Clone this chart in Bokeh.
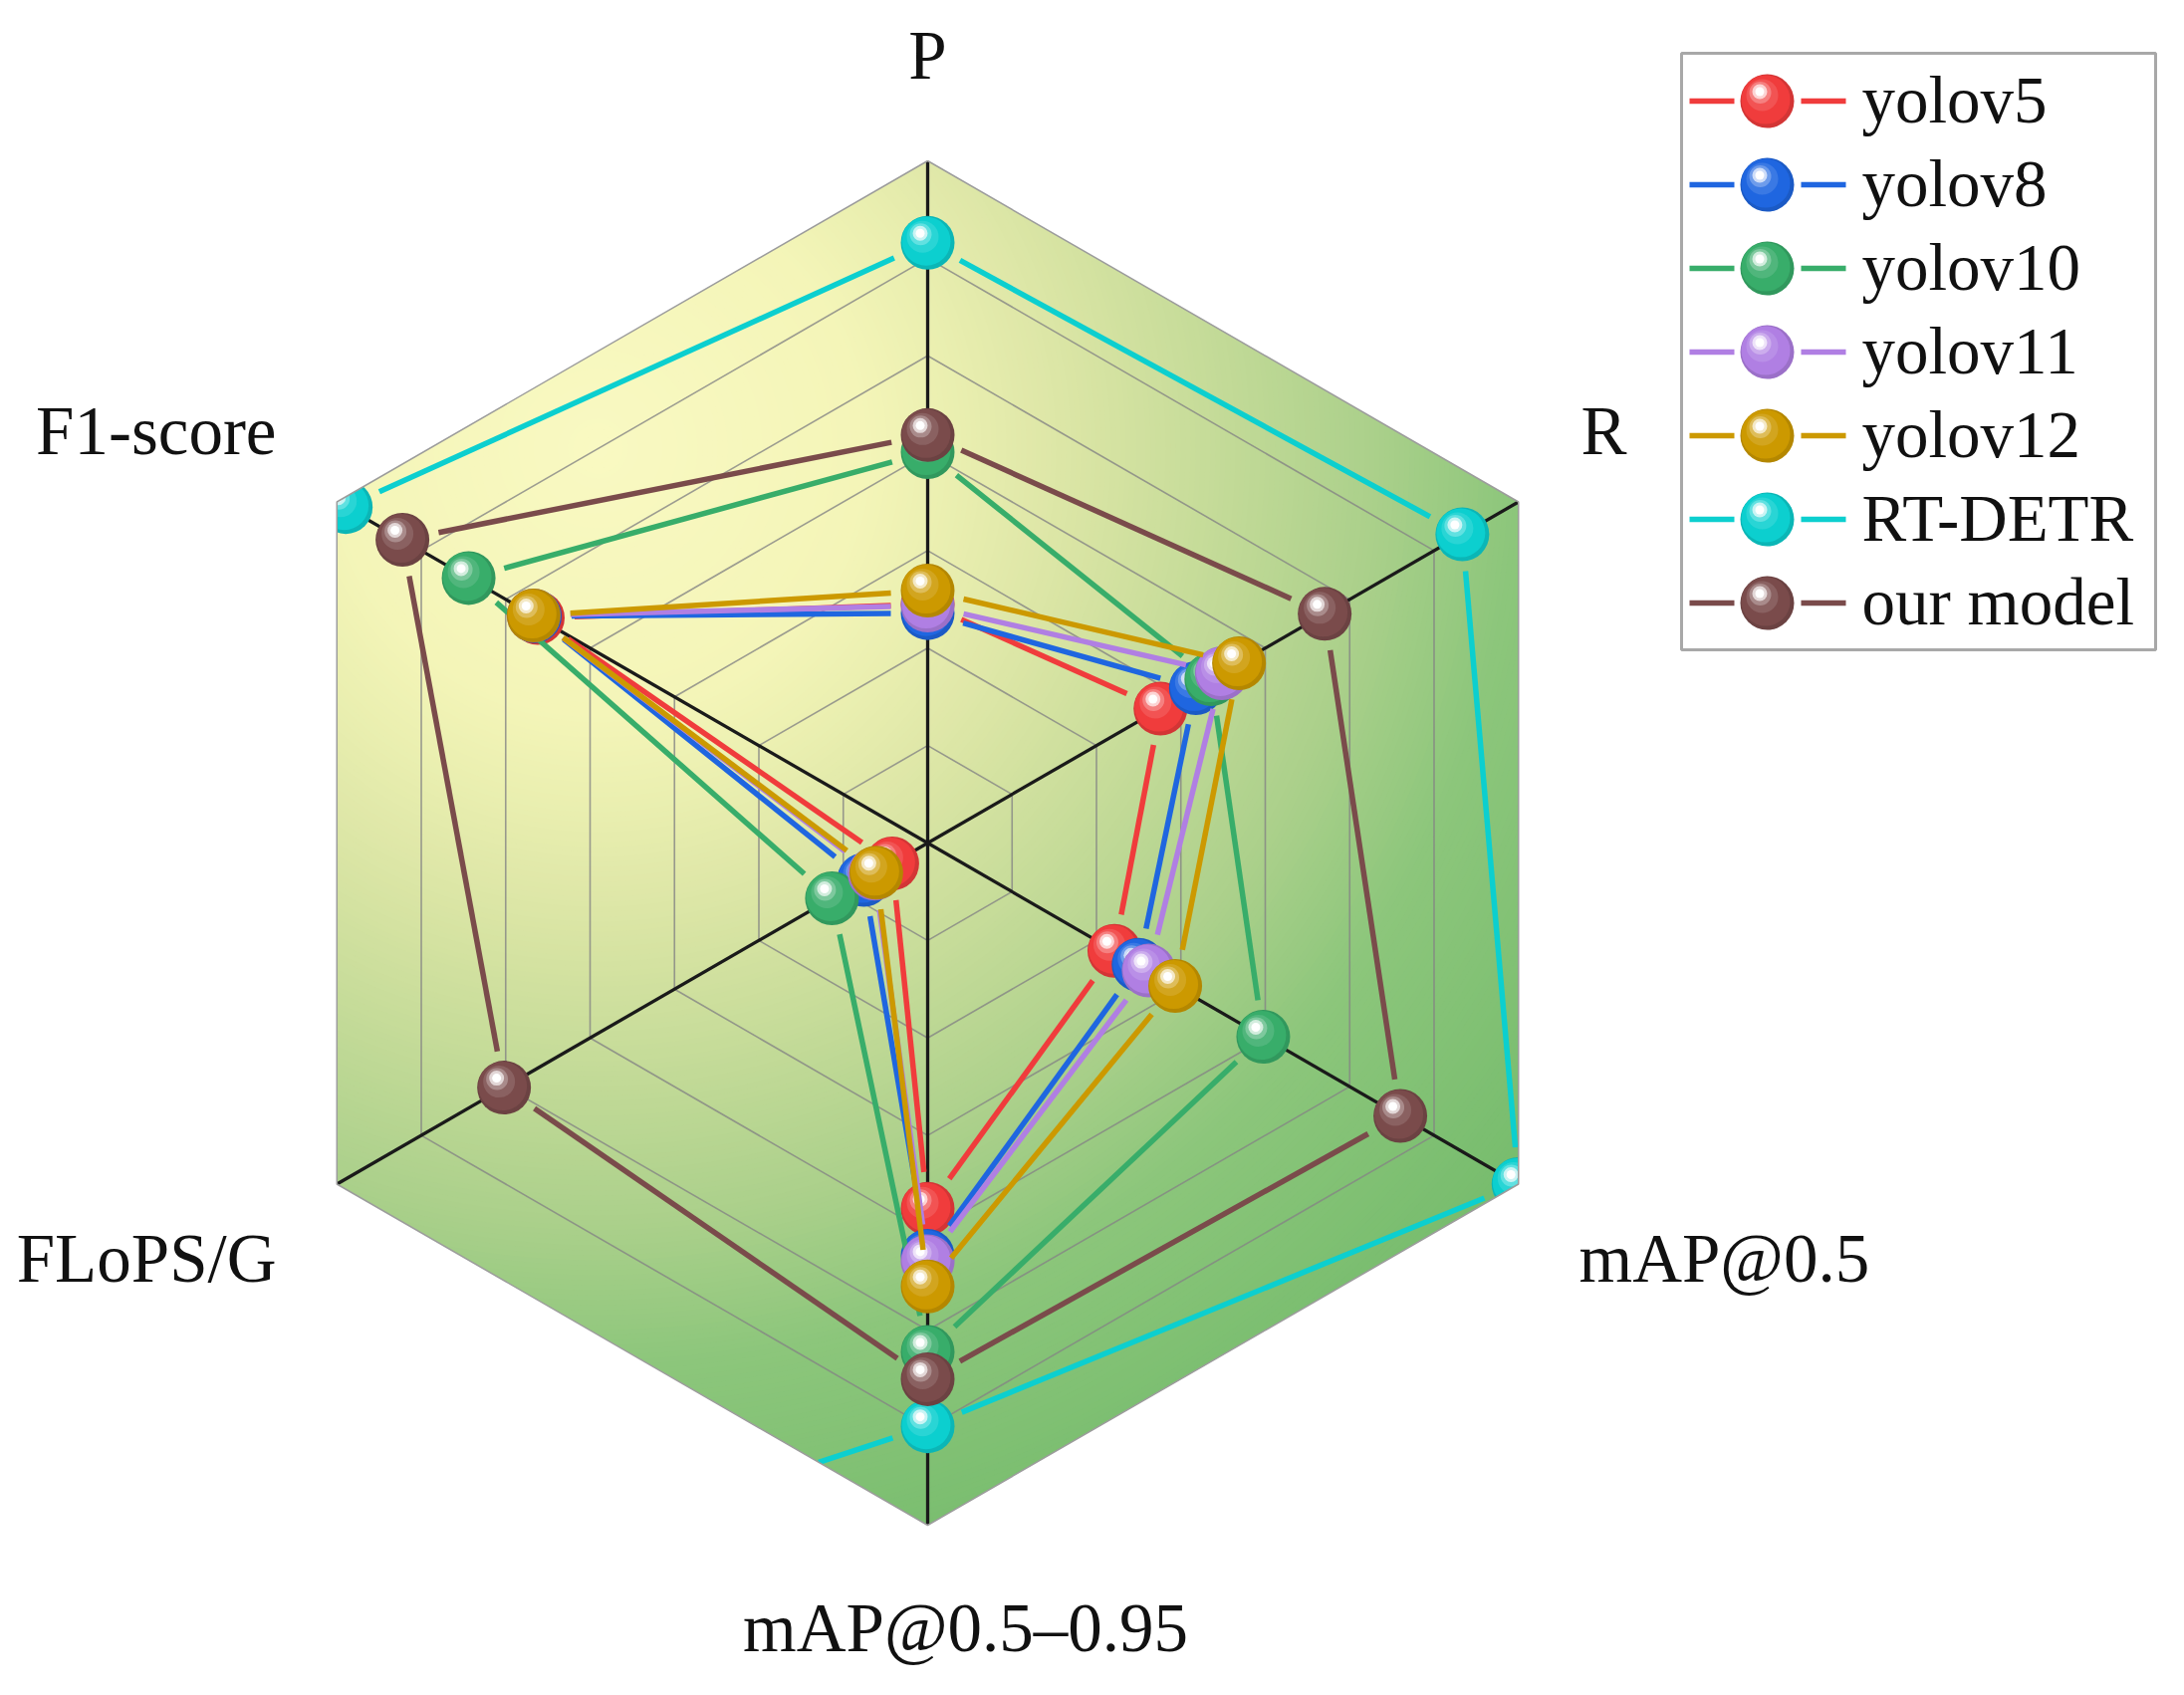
import math
from bokeh.plotting import figure
from bokeh.models import Range1d
from bokeh.core.properties import value
from bokeh.embed import file_html
from bokeh.resources import INLINE

# ---------------- data (normalised to axis maximum) ----------------
categories = ["P", "R", "mAP@0.5", "mAP@0.5\u20130.95", "FLoPS/G", "F1-score"]
series_names = ["yolov5", "yolov8", "yolov10", "yolov11", "yolov12", "RT-DETR", "our model"]
yolov5 = [0.350, 0.394, 0.316, 0.536, 0.060, 0.660]
yolov8 = [0.337, 0.454, 0.357, 0.605, 0.108, 0.665]
yolov10 = [0.573, 0.480, 0.568, 0.746, 0.162, 0.777]
yolov11 = [0.348, 0.498, 0.374, 0.613, 0.090, 0.667]
yolov12 = [0.370, 0.527, 0.419, 0.650, 0.087, 0.667]
rt_detr = [0.880, 0.905, 1.000, 0.855, 4.000, 0.985]
our_model = [0.598, 0.672, 0.800, 0.786, 0.717, 0.889]
series_values = [yolov5, yolov8, yolov10, yolov11, yolov12, rt_detr, our_model]
series_colors = ["#f03c3c", "#1f66e0", "#38ad6a", "#b07fe3", "#cc9900", "#0ccfcf", "#7a4b4b"]
n_rings = 7

# ---------------- layout (pixel-like data space) ----------------
W, H = 2176, 1684
CX, CY, RAD = 931.0, 846.0, 685.0
angles = [90, 30, -30, -90, -150, 150]
BALL_R = 27.0
GAP = 37.0
TXT_SHIFT = -25  # compensates the renderer's baseline offset

p = figure(width=W, height=H, x_range=Range1d(0, W), y_range=Range1d(H, 0),
           output_backend="svg", toolbar_location=None, min_border=0,
           x_axis_type=None, y_axis_type=None)
p.grid.visible = False
p.outline_line_color = None
p.background_fill_color = "white"
p.border_fill_color = "white"


def pos(v, k):
    a = math.radians(angles[k])
    return CX + v * RAD * math.cos(a), CY - v * RAD * math.sin(a)


def hexagon(f):
    pts = [pos(f, k) for k in range(6)]
    return [q[0] for q in pts], [q[1] for q in pts]


HEXV = [pos(1.0, k) for k in range(6)]


def side(a, b, q):
    return (b[0] - a[0]) * (q[1] - a[1]) - (b[1] - a[1]) * (q[0] - a[0])


def clip_poly(poly):
    out = poly
    for i in range(6):
        a, b = HEXV[i], HEXV[(i + 1) % 6]
        inp, out = out, []
        if not inp:
            break
        for j in range(len(inp)):
            cur, prev = inp[j], inp[j - 1]
            sc, sp = side(a, b, cur), side(a, b, prev)
            if sc >= 0:
                if sp < 0:
                    t = sp / (sp - sc)
                    out.append((prev[0] + t * (cur[0] - prev[0]), prev[1] + t * (cur[1] - prev[1])))
                out.append(cur)
            elif sp >= 0:
                t = sp / (sp - sc)
                out.append((prev[0] + t * (cur[0] - prev[0]), prev[1] + t * (cur[1] - prev[1])))
    return out


def clip_seg(A, B):
    t0, t1 = 0.0, 1.0
    for i in range(6):
        a, b = HEXV[i], HEXV[(i + 1) % 6]
        fa, fb = side(a, b, A), side(a, b, B)
        if fa < 0 and fb < 0:
            return None
        if fa < 0:
            t0 = max(t0, fa / (fa - fb))
        elif fb < 0:
            t1 = min(t1, fa / (fa - fb))
    if t0 >= t1:
        return None
    d = (B[0] - A[0], B[1] - A[1])
    return (A[0] + t0 * d[0], A[1] + t0 * d[1]), (A[0] + t1 * d[0], A[1] + t1 * d[1])


def hex2rgb(h):
    h = h.lstrip("#")
    return tuple(int(h[i:i + 2], 16) for i in (0, 2, 4))


def rgb2hex(c):
    return "#%02x%02x%02x" % tuple(max(0, min(255, int(round(v)))) for v in c)


def mix(c, w, f):
    a, b = hex2rgb(c), hex2rgb(w)
    return rgb2hex(tuple(a[i] + (b[i] - a[i]) * f for i in range(3)))


# ---------------- background gradient (clipped to the hexagon) ----------------
stops = [(0, "#f9f9c2"), (270, "#f4f5b8"), (360, "#eaefb0"), (440, "#e0e8a9"),
         (510, "#d6e3a2"), (650, "#c0d996"), (780, "#abd08b"), (925, "#8cc67b"),
         (1130, "#7bbe70"), (1250, "#72ba69")]


def grad(t):
    for i in range(len(stops) - 1):
        t0, c0 = stops[i]
        t1, c1 = stops[i + 1]
        if t <= t1:
            return mix(c0, c1, (t - t0) / (t1 - t0))
    return stops[-1][1]


gx, gy = 600.0, 450.0
gxs, gys, gcs = [], [], []
for t in range(1220, 0, -5):
    circ = [(gx + t * math.cos(2 * math.pi * j / 180), gy + t * math.sin(2 * math.pi * j / 180))
            for j in range(180)]
    cp = clip_poly(circ)
    if len(cp) < 3:
        continue
    gxs.append([q[0] for q in cp])
    gys.append([q[1] for q in cp])
    gcs.append(grad(t))
p.patches(gxs, gys, fill_color=gcs, line_color=None)

# ---------------- grid rings and spokes ----------------
for k in range(1, n_rings):
    hx, hy = hexagon(k / n_rings)
    p.line(hx + [hx[0]], hy + [hy[0]], line_color="#858585", line_width=1.6, line_alpha=0.8)
for k in range(6):
    vx, vy = pos(1.0, k)
    p.line([CX, vx], [CY, vy], line_color="#1a1a1a", line_width=3.3)


def ball(xs, ys, color):
    p.scatter(xs, ys, size=2 * BALL_R, fill_color=mix(color, "#000000", 0.12), line_color=None)
    p.scatter([x - 1.5 for x in xs], [y - 1.5 for y in ys], size=2 * BALL_R - 5,
              fill_color=color, line_color=None)
    p.scatter([x - 5 for x in xs], [y - 6 for y in ys], size=32,
              fill_color=mix(color, "#ffffff", 0.2), fill_alpha=0.6, line_color=None)
    p.scatter([x - 7 for x in xs], [y - 8.5 for y in ys], size=22,
              fill_color=mix(color, "#ffffff", 0.45), fill_alpha=0.7, line_color=None)
    p.scatter([x - 7.5 for x in xs], [y - 9.5 for y in ys], size=15,
              fill_color=mix(color, "#ffffff", 0.78), line_color=None)
    p.scatter([x - 7.5 for x in xs], [y - 9.5 for y in ys], size=9,
              fill_color="#ffffff", line_color=None)


# ---------------- series ----------------
for vals, col in zip(series_values, series_colors):
    pts = [pos(v, k) for k, v in enumerate(vals)]
    sx0, sy0, sx1, sy1 = [], [], [], []
    for i in range(6):
        (ax_, ay_), (bx_, by_) = pts[i], pts[(i + 1) % 6]
        d = math.hypot(bx_ - ax_, by_ - ay_)
        if d <= 2 * GAP:
            continue
        ux, uy = (bx_ - ax_) / d, (by_ - ay_) / d
        seg = clip_seg((ax_ + ux * GAP, ay_ + uy * GAP), (bx_ - ux * GAP, by_ - uy * GAP))
        if seg is None:
            continue
        sx0.append(seg[0][0])
        sy0.append(seg[0][1])
        sx1.append(seg[1][0])
        sy1.append(seg[1][1])
    p.segment(sx0, sy0, sx1, sy1, line_color=col, line_width=5.5)
    inside = [q for q in pts if -100 < q[0] < W + 100 and -100 < q[1] < H + 100]
    ball([q[0] for q in inside], [q[1] for q in inside], col)

# ---------------- clip mask outside the hexagon (for partly clipped balls) ----------------
hx, hy = hexagon(1.0)
p.multi_polygons(xs=[[[[-20, W + 20, W + 20, -20], hx]]], ys=[[[[-20, -20, H + 20, H + 20], hy]]],
                 fill_color="white", line_color=None)
p.line(hx + [hx[0]], hy + [hy[0]], line_color="#9c9c9c", line_width=1.5)

# ---------------- axis labels ----------------
lab_x = [931, 1587, 1585, 969, 277, 277]
lab_y = [80, 457, 1288, 1659, 1288, 457]
lab_align = ["center", "left", "left", "center", "right", "right"]
for t, x, y, al in zip(categories, lab_x, lab_y, lab_align):
    p.text([x], [y + TXT_SHIFT], text=[t], text_font=value("Liberation Serif"),
           text_font_size="69px", text_align=al, text_baseline="alphabetic",
           text_color="#111111")

# ---------------- legend ----------------
p.quad(left=[1688], right=[2164], top=[53], bottom=[652], fill_color="white",
       line_color="#a8a8a8", line_width=3)
row_y = [101 + 84 * i for i in range(len(series_names))]
for name, col, ry in zip(series_names, series_colors, row_y):
    p.segment([1696, 1808], [ry, ry], [1741, 1853], [ry, ry], line_color=col, line_width=5.5)
    ball([1774], [ry], col)
    p.text([1869], [ry + 23 + TXT_SHIFT], text=[name], text_font=value("Liberation Serif"),
           text_font_size="67px", text_align="left", text_baseline="alphabetic",
           text_color="#111111")

open("out.html", "w").write(file_html(p, INLINE))
